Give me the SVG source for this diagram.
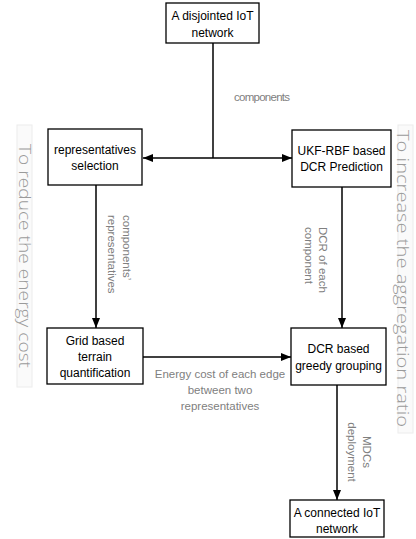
<svg xmlns="http://www.w3.org/2000/svg" width="416" height="539" viewBox="0 0 416 539">
<style>
.box{fill:#fff;stroke:#000;stroke-width:1.3}
.t{font-family:"Liberation Sans",Arial,sans-serif;font-size:12px;fill:#000;text-anchor:middle}
.lbl{font-family:"Liberation Sans",Arial,sans-serif;font-size:11.5px;fill:#808080}
.side{font-family:"Open Sans","Liberation Sans",sans-serif;font-weight:300;font-size:17px;fill:#9a9a9a}
.sbg{fill:#fafafa;stroke:#ececec;stroke-width:1}
.ln{stroke:#000;stroke-width:1.5;fill:none}
</style>
<defs>
<marker id="ah" markerUnits="userSpaceOnUse" markerWidth="10" markerHeight="10" viewBox="0 0 10 10" refX="10" refY="5" orient="auto">
<path d="M0,1 L10,5 L0,9 Z" fill="#000"/>
</marker>
</defs>
<g id="side-left">
<rect class="sbg" x="17" y="125" width="15" height="262"/>
<text class="side" transform="translate(19,144) rotate(90)" textLength="224" lengthAdjust="spacingAndGlyphs">To reduce the energy cost</text>
</g>
<g id="side-right">
<rect class="sbg" x="398" y="125" width="15" height="308"/>
<text class="side" transform="translate(397,130) rotate(90)" textLength="297" lengthAdjust="spacingAndGlyphs">To increase the aggregation ratio</text>
</g>
<g id="connectors">
<line class="ln" x1="213" y1="43" x2="213" y2="158"/>
<line class="ln" x1="213" y1="158" x2="143" y2="158" marker-end="url(#ah)"/>
<line class="ln" x1="213" y1="158" x2="292" y2="158" marker-end="url(#ah)"/>
<line class="ln" x1="96" y1="185" x2="96" y2="328" marker-end="url(#ah)"/>
<line class="ln" x1="342" y1="187" x2="342" y2="328" marker-end="url(#ah)"/>
<line class="ln" x1="143" y1="357" x2="291" y2="357" marker-end="url(#ah)"/>
<line class="ln" x1="337" y1="385" x2="337" y2="500" marker-end="url(#ah)"/>
<text class="lbl" x="234" y="101" textLength="56">components</text>
<text class="lbl" transform="translate(123,215) rotate(90)"><tspan x="0" y="0">components’</tspan><tspan x="0" y="15">representatives</tspan></text>
<text class="lbl" transform="translate(319,227) rotate(90)"><tspan x="0" y="0">DCR of each</tspan><tspan x="0" y="14">component</tspan></text>
<text class="lbl" text-anchor="middle" transform="translate(363,452) rotate(90)"><tspan x="0" y="0">MDCs</tspan><tspan x="0" y="15">deployment</tspan></text>
<text class="lbl" text-anchor="middle"><tspan x="220" y="378">Energy cost of each edge</tspan><tspan x="220" y="394">between two</tspan><tspan x="220" y="410">representatives</tspan></text>
</g>
<g id="n-top">
<rect class="box" x="166" y="3" width="93" height="40"/>
<text class="t"><tspan x="212.5" y="20">A disjointed IoT</tspan><tspan x="212.5" y="37">network</tspan></text>
</g>
<g id="n-rep">
<rect class="box" x="48" y="129" width="94" height="56"/>
<text class="t"><tspan x="95" y="154">representatives</tspan><tspan x="95" y="170">selection</tspan></text>
</g>
<g id="n-ukf">
<rect class="box" x="292" y="130" width="99" height="57"/>
<text class="t"><tspan x="341.5" y="155">UKF-RBF  based</tspan><tspan x="341.5" y="171">DCR Prediction</tspan></text>
</g>
<g id="n-grid">
<rect class="box" x="47" y="328" width="96" height="56"/>
<text class="t"><tspan x="95" y="345">Grid based</tspan><tspan x="95" y="361">terrain</tspan><tspan x="95" y="377">quantification</tspan></text>
</g>
<g id="n-dcr">
<rect class="box" x="291" y="328" width="95" height="57"/>
<text class="t"><tspan x="338.5" y="353">DCR based</tspan><tspan x="338.5" y="370">greedy grouping</tspan></text>
</g>
<g id="n-bottom">
<rect class="box" x="290" y="500" width="94" height="37"/>
<text class="t"><tspan x="337" y="517">A connected IoT</tspan><tspan x="337" y="533">network</tspan></text>
</g>
</svg>
